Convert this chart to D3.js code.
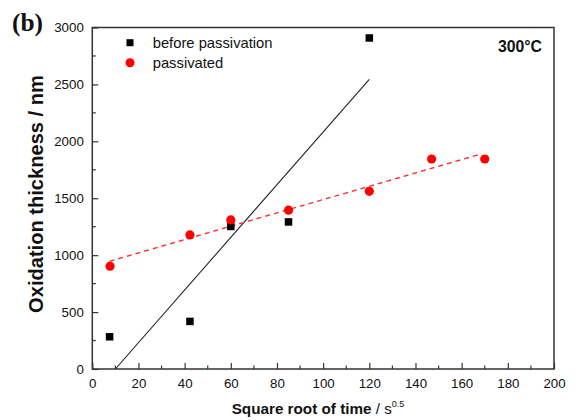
<!DOCTYPE html>
<html><head><meta charset="utf-8">
<script src="https://cdn.jsdelivr.net/npm/d3@7"></script>
<style>body{margin:0;background:#fff}svg{display:block}</style>
</head><body><svg id="c" width="579" height="420" font-family="'Liberation Sans',Arial,sans-serif"></svg>
<script>
const beforeX = [7.5, 42.3, 60, 85, 120];
const beforeY = [283, 418, 1252, 1292, 2908];
const passX = [7.7, 42.3, 60, 85, 120, 147, 170];
const passY = [903, 1178, 1310, 1395, 1561, 1845, 1845];
const beforeFit = [[10, 0], [120, 2544]];
const passFit = [[7.5, 947], [168.5, 1889]];
const xTicks = [0,20,40,60,80,100,120,140,160,180,200];
const yTicks = [0,500,1000,1500,2000,2500,3000];

const svg = d3.select("#c");
const L=92.3, R=554, T=27.5, B=369;
const x = d3.scaleLinear().domain([0,200]).range([L,R]);
const y = d3.scaleLinear().domain([0,3000]).range([B,T]);

function fit(sel, w){ const n=sel.node(); const fs=+sel.attr("font-size"); const len=n.getComputedTextLength(); sel.attr("font-size", fs*w/len); return sel; }

svg.append("rect").attr("x",L).attr("y",T).attr("width",R-L).attr("height",B-T)
  .attr("fill","none").attr("stroke","#333").attr("stroke-width",1.5);

const xa = d3.axisBottom(x).tickValues(xTicks).tickSize(-6).tickPadding(10).tickFormat(d3.format("d"));
const gx = svg.append("g").attr("transform",`translate(0,${B})`).call(xa);
gx.attr("font-family",null);
gx.select(".domain").remove();
gx.selectAll(".tick line").attr("stroke","#333").attr("stroke-width",1.2);
gx.selectAll("text").attr("font-size",13.3).attr("fill","#111");
const xMinor = d3.range(10,200,20);
svg.append("g").selectAll("line").data(xMinor).join("line")
  .attr("x1",d=>x(d)).attr("x2",d=>x(d)).attr("y1",B).attr("y2",B-3.5).attr("stroke","#333").attr("stroke-width",1.2);

const ya = d3.axisLeft(y).tickValues(yTicks).tickSize(-6).tickPadding(8.5).tickFormat(d3.format("d"));
const gy = svg.append("g").attr("transform",`translate(${L},0)`).call(ya);
gy.attr("font-family",null);
gy.select(".domain").remove();
gy.selectAll(".tick line").attr("stroke","#333").attr("stroke-width",1.2);
gy.selectAll("text").attr("font-size",13.3).attr("fill","#111");
const yMinor = d3.range(250,3000,500);
svg.append("g").selectAll("line").data(yMinor).join("line")
  .attr("x1",L).attr("x2",L+3.5).attr("y1",d=>y(d)).attr("y2",d=>y(d)).attr("stroke","#333").attr("stroke-width",1.2);

const line = d3.line().x(d=>x(d[0])).y(d=>y(d[1]));
svg.append("path").attr("d",line(beforeFit)).attr("stroke","#222").attr("stroke-width",1.1).attr("fill","none");
svg.append("path").attr("d",line(passFit)).attr("stroke","#ff3030").attr("stroke-width",1.4)
  .attr("stroke-dasharray","5,4").attr("fill","none");

const sq=7.5;
svg.append("g").selectAll("rect").data(beforeX.map((d,i)=>[d,beforeY[i]])).join("rect")
  .attr("x",d=>x(d[0])-sq/2).attr("y",d=>y(d[1])-sq/2).attr("width",sq).attr("height",sq).attr("fill","#000");
svg.append("g").selectAll("circle").data(passX.map((d,i)=>[d,passY[i]])).join("circle")
  .attr("cx",d=>x(d[0])).attr("cy",d=>y(d[1])).attr("r",4.6).attr("fill","#ff0000");

// legend
svg.append("rect").attr("x",130-3.5).attr("y",42.7-3.5).attr("width",7).attr("height",7).attr("fill","#000");
svg.append("circle").attr("cx",130).attr("cy",62.7).attr("r",4.5).attr("fill","#ff0000");
const lt1 = svg.append("text").attr("x",152.7).attr("y",48).attr("font-size",14).attr("fill","#111").text("before passivation");
fit(lt1,120);
svg.append("text").attr("x",152.7).attr("y",68).attr("font-size",lt1.attr("font-size")).attr("fill","#111").text("passivated");

const t300 = svg.append("text").attr("x",498).attr("y",51.5).attr("font-size",14)
  .attr("font-weight","bold").attr("fill","#111").text("300°C");
fit(t300,44);

const tb = svg.append("text").attr("x",12).attr("y",30.5).attr("font-size",21).attr("font-weight","bold")
  .attr("font-family","'Liberation Serif','Times New Roman',serif").attr("fill","#111").text("(b)");
fit(tb,31);

const xt = svg.append("text").attr("x",231.7).attr("y",414).attr("font-size",15).attr("fill","#111");
xt.append("tspan").attr("font-weight","bold").text("Square root of time");
xt.append("tspan").text(" / s");
xt.append("tspan").attr("font-size",9).attr("dy",-7).text("0.5");
fit(xt,173);

const yt = svg.append("text").attr("transform",`translate(43.3,194) rotate(-90)`).attr("text-anchor","middle")
  .attr("font-size",15).attr("font-weight","bold").attr("fill","#111").text("Oxidation thickness / nm");
fit(yt,238);
</script></body></html>
